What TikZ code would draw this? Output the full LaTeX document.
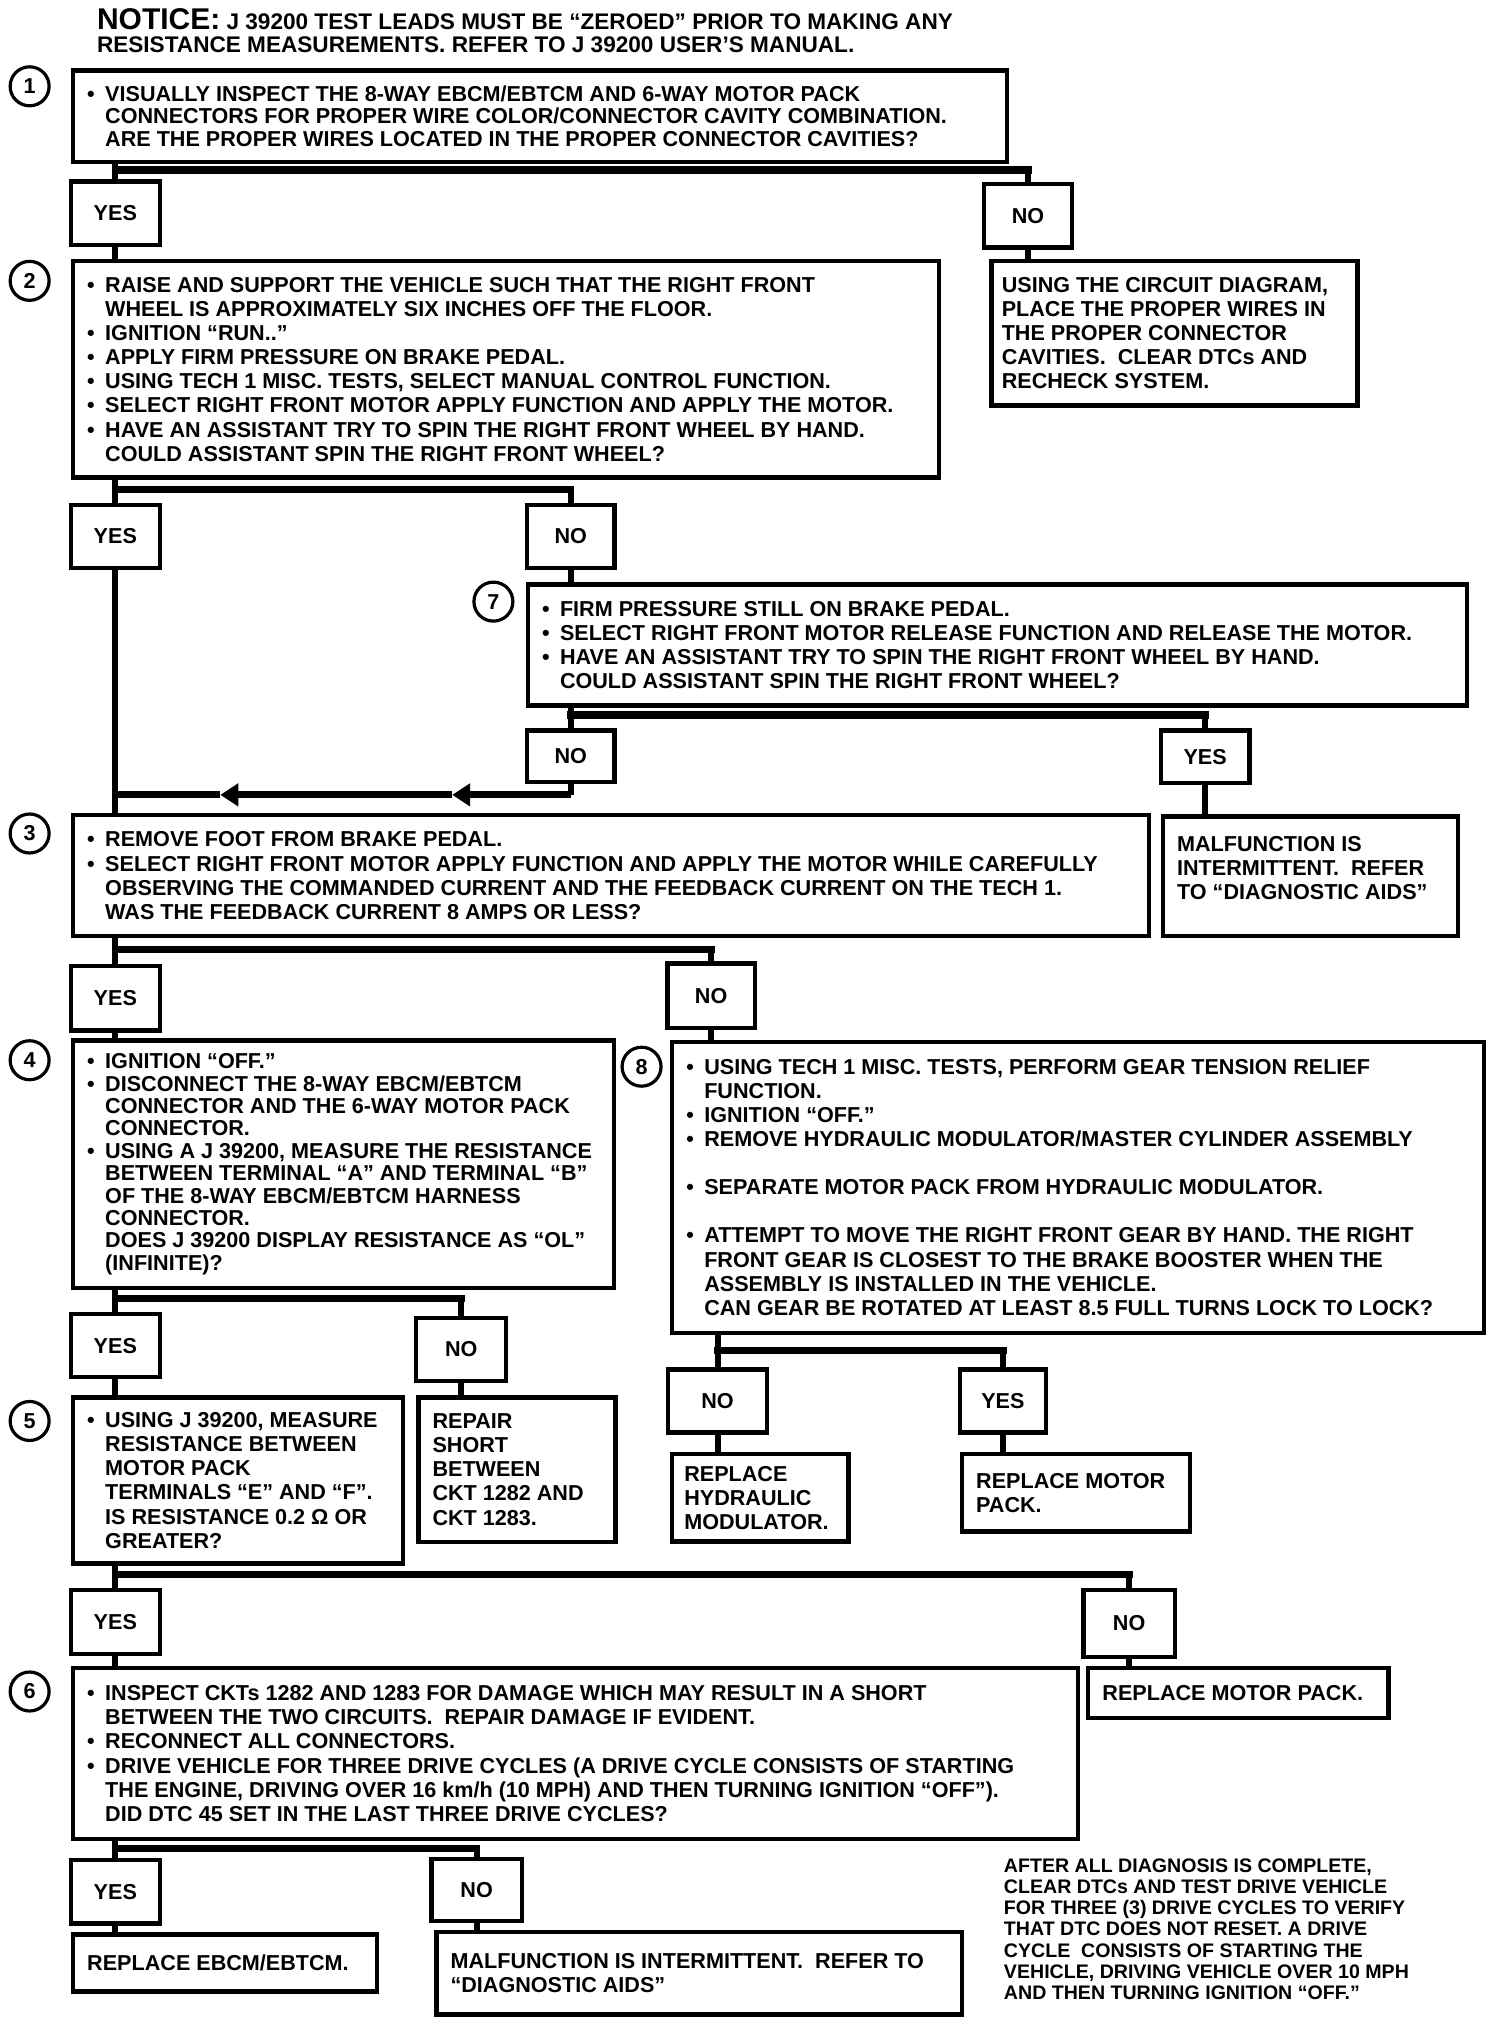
\documentclass[tikz,border=0pt]{standalone}
\usepackage{fontspec}
\setmainfont{Liberation Sans}
\usepackage{tikz}
\usetikzlibrary{arrows.meta}

% bullet and hanging indent for the step lists
\newcommand{\bpt}{\makebox[9pt][l]{•}}
\newcommand{\bsk}{\hspace*{9pt}}

\begin{document}
\begin{tikzpicture}[x=0.6444pt, y=-0.6444pt,
  every node/.style={font=\fontsize{10.8}{12.05}\selectfont\bfseries},
  box/.style={draw, line width=2.2pt, rectangle, inner sep=0pt, anchor=north west},
  yn/.style={draw, line width=2.2pt, rectangle, inner sep=0pt},
  txt/.style={anchor=west, align=left, inner sep=0pt},
  num/.style={draw, circle, line width=1.6pt, minimum size=19.5pt, inner sep=0pt},
  conn/.style={line width=3pt},
  bar/.style={line width=3.6pt, line cap=rect},
  abar/.style={line width=3.6pt},
  tip/.style={-{Triangle[length=9pt,width=11pt]}}]
  \useasboundingbox (0,0) rectangle (1167,1568);

  % notice
  \node[txt, font=\fontsize{11.3}{11.6}\selectfont\bfseries] (notice) at (75,24)
    {{\fontsize{15}{15}\selectfont NOTICE:} J 39200 TEST LEADS MUST BE “ZEROED” PRIOR TO MAKING ANY\\
     RESISTANCE MEASUREMENTS. REFER TO J 39200 USER’S MANUAL.};

  % step 1: connector check
  \node[num] (c1) at (23,67) {1};
  \node[box, minimum width=467.2pt, minimum height=45.8pt] (b1) at (55,53) {};
  \node[txt, font=\fontsize{10.8}{11.4}\selectfont\bfseries] (t1) at ([xshift=8pt]b1.west)
    {\bpt VISUALLY INSPECT THE 8-WAY EBCM/EBTCM AND 6-WAY MOTOR PACK\\
     \bsk CONNECTORS FOR PROPER WIRE COLOR/CONNECTOR CAVITY COMBINATION.\\
     \bsk ARE THE PROPER WIRES LOCATED IN THE PROPER CONNECTOR CAVITIES?};
  \node[yn, minimum width=44.5pt, minimum height=31.6pt] (y1) at (89.5,165.5) {YES};
  \node[yn, minimum width=43.8pt, minimum height=31.6pt] (n1) at (798,167.5) {NO};
  \node[box, minimum width=183pt, minimum height=72.2pt] (nr1) at (768,201) {};
  \node[txt] (tnr1) at ([xshift=6pt]nr1.west)
    {USING THE CIRCUIT DIAGRAM,\\
     PLACE THE PROPER WIRES IN\\
     THE PROPER CONNECTOR\\
     CAVITIES.\ \ CLEAR DTCs AND\\
     RECHECK SYSTEM.};
  \coordinate (s1) at (89.5,132);
  \draw[conn] (b1.south -| y1) -- (y1.north);
  \draw[bar] (s1) -- (s1 -| n1);
  \draw[conn] (s1 -| n1) -- (n1.north);
  \draw[conn] (n1.south) -- (nr1.north -| n1);

  % step 2: spin test with motor applied
  \node[num] (c2) at (23,218) {2};
  \node[box, minimum width=433pt, minimum height=108.3pt] (b2) at (55,201) {};
  \node[txt] (t2) at ([xshift=8pt]b2.west)
    {\bpt RAISE AND SUPPORT THE VEHICLE SUCH THAT THE RIGHT FRONT\\
     \bsk WHEEL IS APPROXIMATELY SIX INCHES OFF THE FLOOR.\\
     \bpt IGNITION “RUN..”\\
     \bpt APPLY FIRM PRESSURE ON BRAKE PEDAL.\\
     \bpt USING TECH 1 MISC. TESTS, SELECT MANUAL CONTROL FUNCTION.\\
     \bpt SELECT RIGHT FRONT MOTOR APPLY FUNCTION AND APPLY THE MOTOR.\\
     \bpt HAVE AN ASSISTANT TRY TO SPIN THE RIGHT FRONT WHEEL BY HAND.\\
     \bsk COULD ASSISTANT SPIN THE RIGHT FRONT WHEEL?};
  \draw[conn] (y1.south) -- (b2.north -| y1);
  \node[yn, minimum width=44.5pt, minimum height=31.6pt] (y2) at (89.5,416.5) {YES};
  \node[yn, minimum width=43.8pt, minimum height=31.6pt] (n2) at (443,416.5) {NO};
  \coordinate (s2) at (89.5,380);
  \draw[conn] (b2.south -| y2) -- (y2.north);
  \draw[bar] (s2) -- (s2 -| n2);
  \draw[conn] (s2 -| n2) -- (n2.north);

  % step 7: spin test with motor released
  \node[num] (c7) at (383,467) {7};
  \node[box, minimum width=469.8pt, minimum height=60.6pt] (b7) at (408,452) {};
  \node[txt] (t7) at ([xshift=8pt]b7.west)
    {\bpt FIRM PRESSURE STILL ON BRAKE PEDAL.\\
     \bpt SELECT RIGHT FRONT MOTOR RELEASE FUNCTION AND RELEASE THE MOTOR.\\
     \bpt HAVE AN ASSISTANT TRY TO SPIN THE RIGHT FRONT WHEEL BY HAND.\\
     \bsk COULD ASSISTANT SPIN THE RIGHT FRONT WHEEL?};
  \draw[conn] (n2.south) -- (b7.north -| n2);
  \node[yn, minimum width=43.8pt, minimum height=25.8pt] (n7) at (443,587) {NO};
  \node[yn, minimum width=44.5pt, minimum height=26.4pt] (y7) at (935.5,587.5) {YES};
  \coordinate (s7) at (443,555);
  \draw[conn] (b7.south -| n7) -- (n7.north);
  \draw[bar] (s7) -- (s7 -| y7);
  \draw[conn] (s7 -| y7) -- (y7.north);
  \node[box, minimum width=147.6pt, minimum height=59.9pt] (mf1) at (901,632) {};
  \node[txt] (tmf1) at ([xshift=8pt,yshift=4pt]mf1.west)
    {MALFUNCTION IS\\
     INTERMITTENT.\ \ REFER\\
     TO “DIAGNOSTIC AIDS”};
  \draw[conn] (y7.south) -- (mf1.north -| y7);
  % back to step 3
  \coordinate (j3) at (89.5,617);
  \coordinate (a1) at (171,617);
  \coordinate (a2) at (351,617);
  \draw[conn] (n7.south) -- (n7.south |- j3);
  \draw[abar, tip] (n7.south |- j3) -- (a2);
  \draw[abar, tip] (a2) -- (a1);
  \draw[abar] (a1) -- (j3);

  % step 3: feedback current
  \node[num] (c3) at (23,647) {3};
  \node[box, minimum width=538.1pt, minimum height=60.6pt] (b3) at (55,631) {};
  \node[txt] (t3) at ([xshift=8pt]b3.west)
    {\bpt REMOVE FOOT FROM BRAKE PEDAL.\\
     \bpt SELECT RIGHT FRONT MOTOR APPLY FUNCTION AND APPLY THE MOTOR WHILE CAREFULLY\\
     \bsk OBSERVING THE COMMANDED CURRENT AND THE FEEDBACK CURRENT ON THE TECH 1.\\
     \bsk WAS THE FEEDBACK CURRENT 8 AMPS OR LESS?};
  \draw[conn] (y2.south) -- (b3.north -| y2);
  \node[yn, minimum width=44.5pt, minimum height=32.2pt] (y3) at (89.5,775) {YES};
  \node[yn, minimum width=43.8pt, minimum height=32.2pt] (n3) at (552,773) {NO};
  \coordinate (s3) at (89.5,737);
  \draw[conn] (b3.south -| y3) -- (y3.north);
  \draw[bar] (s3) -- (s3 -| n3);
  \draw[conn] (s3 -| n3) -- (n3.north);

  % step 4: harness resistance
  \node[num] (c4) at (23,823) {4};
  \node[box, minimum width=270.6pt, minimum height=123.7pt] (b4) at (55,806) {};
  \node[txt, font=\fontsize{10.8}{11.2}\selectfont\bfseries] (t4) at ([xshift=8pt]b4.west)
    {\bpt IGNITION “OFF.”\\
     \bpt DISCONNECT THE 8-WAY EBCM/EBTCM\\
     \bsk CONNECTOR AND THE 6-WAY MOTOR PACK\\
     \bsk CONNECTOR.\\
     \bpt USING A J 39200, MEASURE THE RESISTANCE\\
     \bsk BETWEEN TERMINAL “A” AND TERMINAL “B”\\
     \bsk OF THE 8-WAY EBCM/EBTCM HARNESS\\
     \bsk CONNECTOR.\\
     \bsk DOES J 39200 DISPLAY RESISTANCE AS “OL”\\
     \bsk (INFINITE)?};
  \draw[conn] (y3.south) -- (b4.north -| y3);
  \node[yn, minimum width=44.5pt, minimum height=31.6pt] (y4) at (89.5,1044.5) {YES};
  \node[yn, minimum width=45.1pt, minimum height=31.6pt] (n4) at (358,1047.5) {NO};
  \coordinate (s4) at (89.5,1008);
  \draw[conn] (b4.south -| y4) -- (y4.north);
  \draw[bar] (s4) -- (s4 -| n4);
  \draw[conn] (s4 -| n4) -- (n4.north);

  % step 8: gear check
  \node[num] (c8) at (498,828) {8};
  \node[box, minimum width=406pt, minimum height=145.6pt] (b8) at (520,807) {};
  \node[txt] (t8) at ([xshift=8pt]b8.west)
    {\bpt USING TECH 1 MISC. TESTS, PERFORM GEAR TENSION RELIEF\\
     \bsk FUNCTION.\\
     \bpt IGNITION “OFF.”\\
     \bpt REMOVE HYDRAULIC MODULATOR/MASTER CYLINDER ASSEMBLY\\[12.05pt]
     \bpt SEPARATE MOTOR PACK FROM HYDRAULIC MODULATOR.\\[12.05pt]
     \bpt ATTEMPT TO MOVE THE RIGHT FRONT GEAR BY HAND. THE RIGHT\\
     \bsk FRONT GEAR IS CLOSEST TO THE BRAKE BOOSTER WHEN THE\\
     \bsk ASSEMBLY IS INSTALLED IN THE VEHICLE.\\
     \bsk CAN GEAR BE ROTATED AT LEAST 8.5 FULL TURNS LOCK TO LOCK?};
  \draw[conn] (n3.south) -- (b8.north -| n3);
  \node[yn, minimum width=49.6pt, minimum height=31.6pt] (n8) at (557,1087.5) {NO};
  \node[yn, minimum width=43.2pt, minimum height=31.6pt] (y8) at (778.5,1087.5) {YES};
  \coordinate (s8) at (557,1048);
  \draw[conn] (b8.south -| n8) -- (n8.north);
  \draw[bar] (s8) -- (s8 -| y8);
  \draw[conn] (s8 -| y8) -- (y8.north);
  \node[box, minimum width=88.3pt, minimum height=43.8pt] (rh) at (520,1127) {};
  \node[txt] (trh) at ([xshift=7pt]rh.west)
    {REPLACE\\ HYDRAULIC\\ MODULATOR.};
  \node[box, minimum width=114.1pt, minimum height=38.7pt] (rm1) at (745,1127) {};
  \node[txt] (trm1) at ([xshift=8pt]rm1.west)
    {REPLACE MOTOR\\ PACK.};
  \draw[conn] (n8.south) -- (rh.north -| n8);
  \draw[conn] (y8.south) -- (rm1.north -| y8);

  % step 5: motor pack resistance
  \node[num] (c5) at (23,1103) {5};
  \node[box, minimum width=165pt, minimum height=83.1pt] (b5) at (55,1083) {};
  \node[txt] (t5) at ([xshift=8pt]b5.west)
    {\bpt USING J 39200, MEASURE\\
     \bsk RESISTANCE BETWEEN\\
     \bsk MOTOR PACK\\
     \bsk TERMINALS “E” AND “F”.\\
     \bsk IS RESISTANCE 0.2 Ω OR\\
     \bsk GREATER?};
  \draw[conn] (y4.south) -- (b5.north -| y4);
  \node[box, minimum width=98.6pt, minimum height=72.2pt] (rp) at (323,1083) {};
  \node[txt] (trp) at ([xshift=8pt]rp.west)
    {REPAIR\\ SHORT\\ BETWEEN\\ CKT 1282 AND\\ CKT 1283.};
  \draw[conn] (n4.south) -- (rp.north -| n4);
  \node[yn, minimum width=44.5pt, minimum height=32.2pt] (y5) at (89.5,1259) {YES};
  \node[yn, minimum width=45.8pt, minimum height=33.5pt] (n5) at (876.5,1260) {NO};
  \coordinate (s5) at (89.5,1222);
  \draw[conn] (b5.south -| y5) -- (y5.north);
  \draw[bar] (s5) -- (s5 -| n5);
  \draw[conn] (s5 -| n5) -- (n5.north);
  \node[box, minimum width=150.1pt, minimum height=25.1pt] (rm2) at (843,1293) {};
  \node[txt] (trm2) at ([xshift=8pt]rm2.west) {REPLACE MOTOR PACK.};
  \draw[conn] (n5.south) -- (rm2.north -| n5);

  % step 6: drive cycles
  \node[num] (c6) at (23,1313) {6};
  \node[box, minimum width=502.6pt, minimum height=85.7pt] (b6) at (55,1293) {};
  \node[txt] (t6) at ([xshift=8pt]b6.west)
    {\bpt INSPECT CKTs 1282 AND 1283 FOR DAMAGE WHICH MAY RESULT IN A SHORT\\
     \bsk BETWEEN THE TWO CIRCUITS.\ \ REPAIR DAMAGE IF EVIDENT.\\
     \bpt RECONNECT ALL CONNECTORS.\\
     \bpt DRIVE VEHICLE FOR THREE DRIVE CYCLES (A DRIVE CYCLE CONSISTS OF STARTING\\
     \bsk THE ENGINE, DRIVING OVER 16 km/h (10 MPH) AND THEN TURNING IGNITION “OFF”).\\
     \bsk DID DTC 45 SET IN THE LAST THREE DRIVE CYCLES?};
  \draw[conn] (y5.south) -- (b6.north -| y5);
  \node[yn, minimum width=44.5pt, minimum height=31.6pt] (y6) at (89.5,1468.5) {YES};
  \node[yn, minimum width=45.1pt, minimum height=30.9pt] (n6) at (370,1467) {NO};
  \coordinate (s6) at (89.5,1435);
  \draw[conn] (b6.south -| y6) -- (y6.north);
  \draw[bar] (s6) -- (s6 -| n6);
  \draw[conn] (s6 -| n6) -- (n6.north);
  \node[box, minimum width=152.1pt, minimum height=28.4pt] (re) at (55,1500) {};
  \node[txt] (tre) at ([xshift=8pt]re.west) {REPLACE EBCM/EBTCM.};
  \node[box, minimum width=262.9pt, minimum height=41.2pt] (mf2) at (337,1498) {};
  \node[txt] (tmf2) at ([xshift=8pt]mf2.west)
    {MALFUNCTION IS INTERMITTENT.\ \ REFER TO\\
     “DIAGNOSTIC AIDS”};
  \draw[conn] (y6.south) -- (re.north -| y6);
  \draw[conn] (n6.south) -- (mf2.north -| n6);

  % closing note
  \node[txt, font=\fontsize{9.8}{10.6}\selectfont\bfseries] (note) at (779,1497.5)
    {AFTER ALL DIAGNOSIS IS COMPLETE,\\
     CLEAR DTCs AND TEST DRIVE VEHICLE\\
     FOR THREE (3) DRIVE CYCLES TO VERIFY\\
     THAT DTC DOES NOT RESET. A DRIVE\\
     CYCLE\ \ CONSISTS OF STARTING THE\\
     VEHICLE, DRIVING VEHICLE OVER 10 MPH\\
     AND THEN TURNING IGNITION “OFF.”};
\end{tikzpicture}
\end{document}
